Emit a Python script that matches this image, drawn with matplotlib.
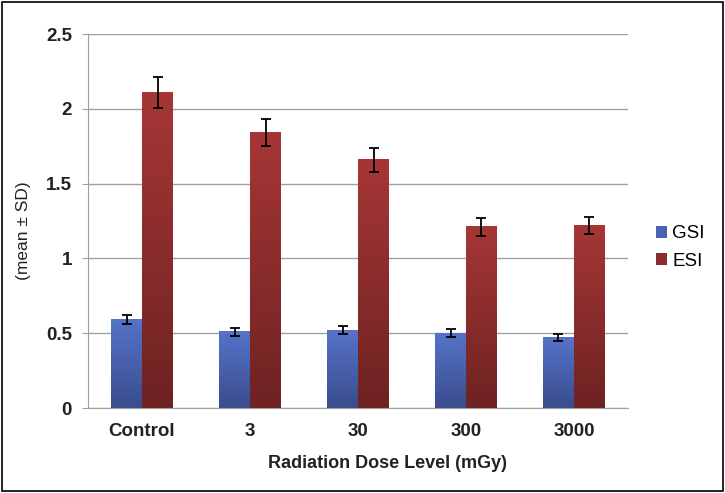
import numpy as np
import matplotlib.pyplot as plt
from matplotlib.patches import Patch, Rectangle
from matplotlib.colors import LinearSegmentedColormap

plt.rcParams['font.family'] = ['Liberation Sans', 'DejaVu Sans']

doses = ["Control", "3", "30", "300", "3000"]
gsi = [0.59, 0.51, 0.52, 0.50, 0.47]
gsi_sd = [0.03, 0.027, 0.025, 0.025, 0.025]
esi = [2.11, 1.84, 1.66, 1.21, 1.22]
esi_sd = [0.105, 0.09, 0.08, 0.06, 0.06]

blue_cm = LinearSegmentedColormap.from_list("b", ["#3a4c8e", "#5673c8"])
red_cm = LinearSegmentedColormap.from_list("r", ["#6e2222", "#a63636"])

fig = plt.figure(figsize=(7.25, 4.93), dpi=100)
ax = fig.add_axes([0.1214, 0.1724, 0.7448, 0.7586])

x = np.arange(len(doses))
w = 0.287
grad = np.linspace(0, 1, 100).reshape(-1, 1)

def gbar(xc, h, cmap):
    ax.imshow(grad, extent=[xc - w/2, xc + w/2, 0, h], origin='lower',
              cmap=cmap, aspect='auto', zorder=2, interpolation='bilinear')

for i in range(len(doses)):
    gbar(x[i] - w/2, gsi[i], blue_cm)
    gbar(x[i] + w/2, esi[i], red_cm)

ax.errorbar(x - w/2, gsi, yerr=gsi_sd, fmt='none', ecolor='black',
            elinewidth=1.3, capsize=3.5, capthick=1.3, zorder=3)
ax.errorbar(x + w/2, esi, yerr=esi_sd, fmt='none', ecolor='black',
            elinewidth=1.3, capsize=3.5, capthick=1.3, zorder=3)

ax.set_xlim(-0.5, len(doses) - 0.5)
ax.set_ylim(0, 2.5)
ax.set_yticks(np.arange(0, 2.51, 0.5))
ax.set_yticklabels(["0", "0.5", "1", "1.5", "2", "2.5"])
ax.set_xticks(x)
ax.set_xticklabels(doses)
ax.yaxis.grid(True, color='#a0a0a0', linewidth=1)
ax.set_axisbelow(True)
for s in ['top', 'right']:
    ax.spines[s].set_visible(False)
ax.spines['left'].set_color('#a0a0a0')
ax.spines['bottom'].set_color('#a0a0a0')
ax.tick_params(axis='y', length=4.5, color='#a0a0a0', labelsize=13.5, pad=7)
ax.tick_params(axis='x', length=0, labelsize=13.5, pad=11)
for t in ax.get_xticklabels() + ax.get_yticklabels():
    t.set_fontweight('bold')
    t.set_color('#222222')

# axis titles placed where they sit in the reference
fig.text(388/725, 1 - 463/493, "Radiation Dose Level (mGy)", fontsize=13,
         fontweight='bold', color='#222222', ha='center', va='center')
fig.text(24/725, 1 - 231/493, "(mean ± SD)", fontsize=12.5, rotation=90,
         color='#222222', ha='center', va='center')

handles = [Patch(facecolor="#4a62b0", label="GSI"),
           Patch(facecolor="#8c2c2c", label="ESI")]
fig.legend(handles=handles, loc='center left', bbox_to_anchor=(0.905, 0.498),
           frameon=False, fontsize=13.5, handlelength=0.6, handleheight=0.6,
           handletextpad=0.25, labelspacing=0.55, borderpad=0, borderaxespad=0)

fig.add_artist(Rectangle((0.003, 0.004), 0.994, 0.992, transform=fig.transFigure,
                         fill=False, edgecolor='black', linewidth=1.2))

fig.savefig("out.png", dpi=100)
